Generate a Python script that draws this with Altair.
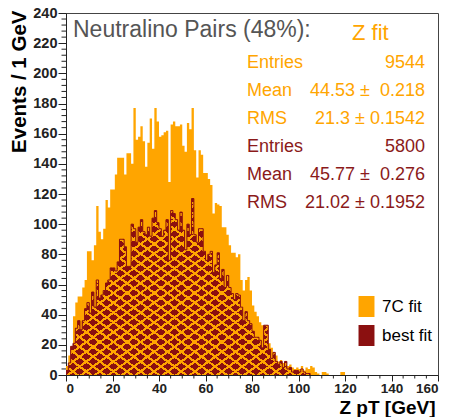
import altair as alt
import pandas as pd

# ---------------- data (1 GeV bins starting at 0) ----------------
bin_width = 1.0
orange_counts = [6, 13, 19, 39, 48, 52, 52, 58, 63, 82,
                 82, 76, 86, 112, 95, 90, 97, 116, 111, 123,
                 123, 133, 144, 144, 144, 133, 147, 147, 140, 177,
                 156, 158, 165, 155, 138, 154, 170, 150, 177, 168,
                 158, 159, 161, 162, 128, 166, 168, 165, 165, 166,
                 152, 148, 167, 163, 177, 149, 131, 149, 146, 134,
                 134, 130, 126, 107, 114, 113, 112, 98, 98, 93,
                 86, 81, 81, 78, 80, 63, 56, 63, 65, 56,
                 46, 42, 39, 35, 33, 30, 30, 21, 18, 14,
                 13, 9, 10, 8, 9, 6, 7, 5, 4, 5,
                 4, 6, 3, 5, 4, 6, 5, 2, 1, 0,
                 2, 2, 1, 0, 0, 0, 0, 0, 2, 2]
red_counts = [3, 8, 19, 21, 31, 36, 30, 36, 44, 48,
              41, 55, 45, 63, 51, 53, 56, 61, 63, 71,
              71, 69, 75, 90, 90, 85, 72, 72, 100, 97,
              88, 98, 103, 95, 93, 98, 92, 104, 109, 101,
              97, 92, 96, 103, 76, 109, 107, 103, 96, 108,
              96, 83, 100, 93, 117, 93, 88, 97, 97, 82,
              76, 80, 82, 68, 73, 81, 64, 70, 58, 66,
              58, 54, 50, 54, 53, 45, 36, 42, 36, 34,
              29, 25, 25, 23, 18, 33, 33, 17, 11, 15,
              9, 7, 9, 5, 9, 4, 5, 2, 3, 3,
              2, 4, 2, 1, 1]
series_names = ["7C fit", "best fit"]
header_text = "Neutralino Pairs (48%):"
fit_text = "Z fit"
stat_labels = ["Entries", "Mean", "RMS", "Entries", "Mean", "RMS"]
stat_values = ["9544", "44.53 \u00b1\u00a0 0.218", "21.3 \u00b1 0.1542",
               "5800", "45.77 \u00b1\u00a0 0.276", "21.02 \u00b1 0.1952"]
x_major = list(range(0, 161, 20))
y_major = list(range(0, 241, 20))
x_minor = [v for v in range(0, 161, 5) if v % 20 != 0]
y_minor = [v for v in range(0, 241, 4) if v % 20 != 0]

ORANGE = "#FFA500"
DARKRED = "#8B1010"
TEXTRED = "#8B1A1A"
AXIS = "#222"
FONT = "Liberation Sans"


def step_frame(counts, name):
    edges = [i * bin_width for i in range(len(counts) + 1)]
    vals = list(counts) + [0]
    return pd.DataFrame({"x": edges, "y": vals, "series": name})


df_o = step_frame(orange_counts, series_names[0])
df_r = step_frame(red_counts, series_names[1])

xscale = alt.Scale(domain=[0, 160], nice=False, zero=False)
yscale = alt.Scale(domain=[0, 240], nice=False)
cscale = alt.Scale(domain=series_names, range=[ORANGE, DARKRED])

xaxis = alt.Axis(values=x_major, tickSize=6, labelOverlap=False, grid=False,
                 title="Z pT [GeV]",
                 titleAnchor="end", titleAlign="right", titleX=369, titleY=38,
                 titleBaseline="alphabetic", titleFontSize=19, titleFont=FONT,
                 titleFontWeight="bold", titleColor="#000",
                 labelFont=FONT, labelFontSize=13.5, labelFontWeight="bold", labelColor=AXIS,
                 labelPadding=0, domainColor=AXIS, tickColor=AXIS)
yaxis = alt.Axis(values=y_major, tickSize=8, labelOverlap=False, grid=False,
                 title="Events / 1 GeV",
                 titleAngle=-90, titleAlign="right", titleAnchor="end", titleX=-41, titleY=-3,
                 titleBaseline="alphabetic", titleFontSize=20.5, titleFont=FONT,
                 titleFontWeight="bold", titleColor="#000",
                 labelFont=FONT, labelFontSize=14.5, labelFontWeight="bold", labelColor=AXIS,
                 labelPadding=1, domainColor=AXIS, tickColor=AXIS)

legend = alt.Legend(title=None, orient="none", legendX=290, legendY=283,
                    symbolType="M-0.76,-1H0.76V1H-0.76Z", symbolSize=441,
                    symbolStrokeWidth=0, labelFont=FONT, labelFontSize=17,
                    labelColor="#000", labelOffset=5, rowPadding=8, padding=0)

X = alt.X("x:Q", scale=xscale, axis=xaxis)
Y = alt.Y("y:Q", scale=yscale, axis=yaxis)
color_enc = alt.Color("series:N", scale=cscale, legend=legend)

orange = alt.Chart(df_o).mark_area(interpolate="step-after", opacity=1).encode(
    x=X, y=Y, color=color_enc)

red = alt.Chart(df_r).mark_area(interpolate="step-after", opacity=1).encode(
    x=X, y=Y, color=color_enc)


def stripes(x1, y1, x2, y2, n=36, frac=0.27):
    stops = []
    clear = "rgba(255,165,0,0)"
    for k in range(n):
        a = k / n
        b = (k + frac) / n
        stops += [alt.GradientStop(color=clear, offset=a),
                  alt.GradientStop(color=ORANGE, offset=a),
                  alt.GradientStop(color=ORANGE, offset=b),
                  alt.GradientStop(color=clear, offset=b)]
    return alt.LinearGradient(gradient="linear", stops=stops, x1=x1, y1=y1, x2=x2, y2=y2)


hatch1 = alt.Chart(df_r).mark_area(interpolate="step-after", opacity=1,
                                   fill=stripes(0, 0, 1, 1)).encode(x=X, y=Y)
hatch2 = alt.Chart(df_r).mark_area(interpolate="step-after", opacity=1,
                                   fill=stripes(1, 0, 0, 1)).encode(x=X, y=Y)
red_line = alt.Chart(df_r).mark_line(interpolate="step-after", color=DARKRED,
                                     strokeWidth=1).encode(x=X, y=Y)

# minor ticks, placed through the shared scales
xminor = alt.Chart(pd.DataFrame({"x": x_minor})).mark_rule(color=AXIS, strokeWidth=1).encode(
    x=X, y=alt.value(362), y2=alt.value(365.5))
yminor = alt.Chart(pd.DataFrame({"y": y_minor})).mark_rule(color=AXIS, strokeWidth=1).encode(
    y=Y, x=alt.value(-4.5), x2=alt.value(0))

# ---------------- annotations ----------------
texts = []
texts.append(alt.Chart(pd.DataFrame({"t": [header_text]})).mark_text(
    align="left", baseline="alphabetic", font=FONT, fontSize=23, color="#555").encode(
    x=alt.value(7), y=alt.value(24), text="t:N"))
texts.append(alt.Chart(pd.DataFrame({"t": [fit_text]})).mark_text(
    align="left", baseline="alphabetic", font=FONT, fontSize=22, color=ORANGE).encode(
    x=alt.value(286), y=alt.value(27), text="t:N"))
for i, (lab, val) in enumerate(zip(stat_labels, stat_values)):
    col = ORANGE if i < 3 else TEXTRED
    yy = 55.3 + i * 28
    texts.append(alt.Chart(pd.DataFrame({"t": [lab]})).mark_text(
        align="left", baseline="alphabetic", font=FONT, fontSize=18, color=col).encode(
        x=alt.value(181), y=alt.value(yy), text="t:N"))
    texts.append(alt.Chart(pd.DataFrame({"t": [val]})).mark_text(
        align="right", baseline="alphabetic", font=FONT, fontSize=18, color=col).encode(
        x=alt.value(359), y=alt.value(yy), text="t:N"))

chart = alt.layer(orange, red, hatch1, hatch2, red_line, xminor, yminor, *texts).properties(
    width=372, height=362,
    padding={"left": 66, "top": 13, "right": 13, "bottom": 42},
    autosize=alt.AutoSizeParams(type="none"),
    background="white",
).configure_view(stroke="#444", strokeWidth=1)

chart.save("out.html", embed_options={"renderer": "svg", "actions": False})
